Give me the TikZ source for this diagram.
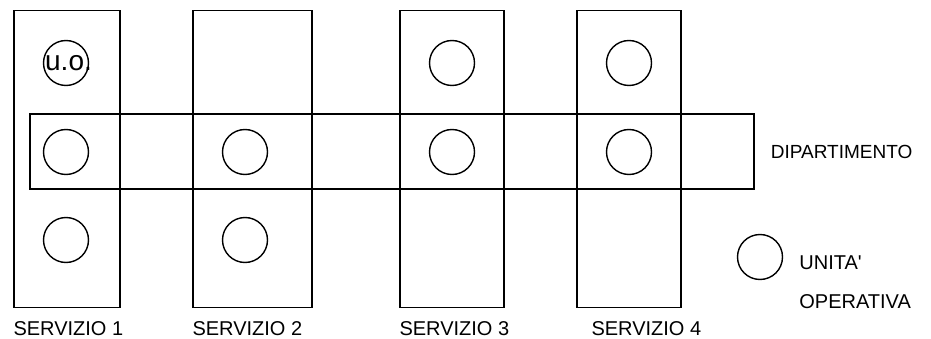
\documentclass[tikz,border=0pt]{standalone}
\usepackage{fontspec}
\setmainfont{Liberation Sans}
\usetikzlibrary{positioning}

\begin{document}
\begin{tikzpicture}[x=1pt,y=-1pt,
    servizio/.style={draw,line width=1.4pt,inner sep=0pt,minimum height=297pt},
    uo/.style={draw,circle,line width=1.4pt,minimum size=45pt,inner sep=0pt},
    lbl/.style={font=\fontsize{20}{22}\selectfont,inner sep=0pt}]
  \useasboundingbox (0,0) rectangle (931,339);
  % servizi
  \node[servizio,minimum width=106pt] (S1) at (67,159) {};
  \node[servizio,minimum width=119pt] (S2) at (252.5,159) {};
  \node[servizio,minimum width=104pt] (S3) at (452,159) {};
  \node[servizio,minimum width=104pt] (S4) at (629,159) {};
  % dipartimento
  \node[servizio,minimum width=724pt,minimum height=75pt] (dip) at (392,151.5) {};
  % unita' operative
  \node[uo] (u11) at (66,63) {};
  \node[uo] (u12) at (66,152) {};
  \node[uo] (u13) at (66,240) {};
  \node[uo] (u22) at (245,152) {};
  \node[uo] (u23) at (245,240) {};
  \node[uo] (u31) at (452,63) {};
  \node[uo] (u32) at (452,152) {};
  \node[uo] (u41) at (629,63) {};
  \node[uo] (u42) at (629,152) {};
  \node[inner sep=0pt,font=\fontsize{28}{30}\selectfont] at ([xshift=2.5pt]u11.center) {u.o.};
  % etichette
  \node[lbl,below right=13pt and 0pt of S1.south west] {SERVIZIO 1};
  \node[lbl,below right=13pt and 0pt of S2.south west] {SERVIZIO 2};
  \node[lbl,below right=13pt and 0pt of S3.south west] {SERVIZIO 3};
  \node[lbl,below right=13pt and 15pt of S4.south west] {SERVIZIO 4};
  \node[lbl,font=\fontsize{19}{22}\selectfont,right=16pt of dip.east] {DIPARTIMENTO};
  % legenda
  \node[uo] (leg) at (760,257) {};
  \node[lbl,anchor=west] (unita) at ([xshift=16pt,yshift=-6pt]leg.east) {UNITA\textquotesingle};
  \node[lbl,below right=24pt and 0pt of unita.south west] {OPERATIVA};
\end{tikzpicture}
\end{document}
